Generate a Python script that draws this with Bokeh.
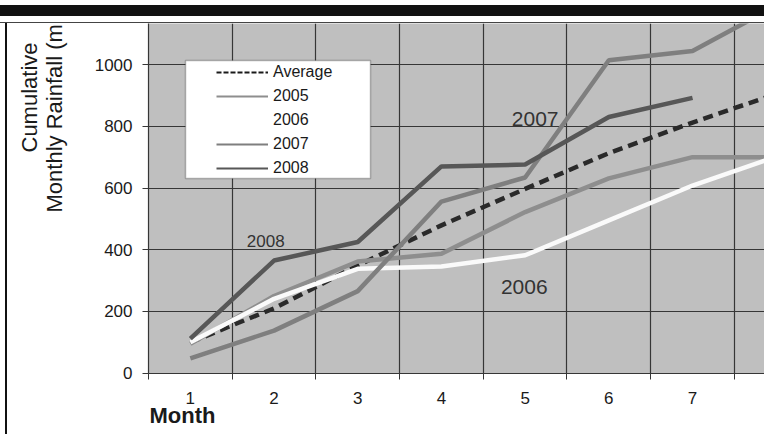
import math
from bokeh.plotting import figure
from bokeh.models import (Range1d, FixedTicker, Label, Legend, LegendItem,
                          BoxAnnotation, Div, Title)
from bokeh.layouts import column, row
from bokeh.core.properties import value
from bokeh.embed import file_html
from bokeh.resources import INLINE

# ---- data ----
months = [1, 2, 3, 4, 5, 6, 7, 8]
average = [100, 210, 349, 479, 597, 713, 812, 905]
y2005 = [95, 250, 362, 387, 522, 631, 700, 700]
y2006 = [100, 241, 338, 346, 382, 495, 608, 702]
y2007 = [48, 138, 266, 556, 634, 1014, 1044, 1190]
y2008 = [112, 365, 425, 670, 676, 830, 892]
y_ticks = [0, 200, 400, 600, 800, 1000]
series_names = ["Average", "2005", "2006", "2007", "2008"]
note_text = ["2008", "2007", "2006"]
note_x = [1.90, 5.12, 4.99]
note_y = [427, 822, 278]
y_title = ["Cumulative", "Monthly Rainfall (mm)"]
x_title = "Month"

FONT = "Liberation Sans"
TXT = "#1a1a1a"
GRID = "#363636"

# ---------------- main chart ----------------
p = figure(width=684, height=411,
           x_range=Range1d(0.5, 7.86), y_range=Range1d(-1, 1133),
           output_backend="svg", toolbar_location=None,
           min_border_left=68, min_border_right=0,
           min_border_top=0, min_border_bottom=61)
p.background_fill_color = "#bfbfbf"
p.border_fill_color = "white"
p.outline_line_color = None

p.xaxis.ticker = FixedTicker(ticks=months, minor_ticks=[m - 0.5 for m in months])
p.xaxis.major_tick_out = 0
p.xaxis.major_tick_in = 0
p.xaxis.minor_tick_out = 6
p.xaxis.minor_tick_in = 0
p.xaxis.minor_tick_line_color = GRID
p.xaxis.major_label_standoff = 12
p.yaxis.ticker = FixedTicker(ticks=y_ticks)
p.yaxis.major_tick_out = 6
p.yaxis.major_tick_in = 0
p.yaxis.minor_tick_out = 0
p.yaxis.minor_tick_in = 0
p.yaxis.major_label_standoff = 10
for ax in (p.xaxis, p.yaxis):
    ax.axis_line_color = GRID
    ax.axis_line_width = 1.2
    ax.major_tick_line_color = GRID
    ax.major_label_text_font = FONT
    ax.major_label_text_font_size = "17px"
    ax.major_label_text_color = TXT

p.xgrid.grid_line_color = None
p.xgrid.minor_grid_line_color = GRID
p.xgrid.minor_grid_line_width = 1.2
p.ygrid.grid_line_color = GRID
p.ygrid.grid_line_width = 1.2

series = [average, y2005, y2006, y2007, y2008]
styles = [("#2a2a2a", "10 6"), ("#8e8e8e", "solid"), ("#fafafa", "solid"),
          ("#7f7f7f", "solid"), ("#575757", "solid")]
for ys, (c, d) in zip(series, styles):
    p.line(months[:len(ys)], ys, line_color=c, line_width=4.5, line_dash=d)

for t, x, y in zip(note_text, note_x, note_y):
    p.text(x=[x], y=[y], text=[t], text_align="center",
           text_baseline="alphabetic", text_font=value(FONT),
           text_font_size="17px" if t == "2008" else "21px",
           text_color="#333333")

# legend: thin sample lines (hidden copies of the series)
leg_styles = [("#1a1a1a", "5 2"), ("#8e8e8e", "solid"), ("#ffffff", "solid"),
              ("#7f7f7f", "solid"), ("#575757", "solid")]
items = []
for name, ys, (c, d) in zip(series_names, series, leg_styles):
    r = p.line(months[:len(ys)], ys, line_color=c, line_width=1.8,
               line_dash=d, visible=False)
    items.append(LegendItem(label=name, renderers=[r]))

box = BoxAnnotation(left=37, right=222, top=313, bottom=195,
                    left_units="screen", right_units="screen",
                    top_units="screen", bottom_units="screen",
                    fill_color="white", fill_alpha=1.0,
                    line_color="#222222", line_width=1.5)
p.add_layout(box)

leg = Legend(items=items, location=(68, 195), padding=3, spacing=4,
             label_height=20, glyph_height=20, glyph_width=52,
             label_standoff=5, background_fill_alpha=0,
             border_line_color=None, margin=0, inactive_fill_alpha=0,
             label_text_font=FONT, label_text_font_size="16px",
             label_text_color=TXT)
p.add_layout(leg)

p.add_layout(Title(text=x_title, align="left", offset=1, vertical_align="top",
                   standoff=-7, text_font=FONT, text_font_size="22px",
                   text_font_style="bold", text_color=TXT), "below")

# ---------------- left strip with the y title ----------------
# (its frame is aligned with the main frame: page y 23..373)
lf = figure(width=72, height=411, x_range=Range1d(0, 72), y_range=Range1d(0, 350),
            output_backend="svg", toolbar_location=None,
            x_axis_location=None, y_axis_location=None,
            min_border_left=0, min_border_right=0, min_border_top=0,
            min_border_bottom=61)
lf.outline_line_color = None
lf.background_fill_color = "white"
lf.border_fill_color = "white"
lf.grid.visible = False
lf.add_layout(Label(x=21, y=221, text=y_title[0], angle=math.pi / 2,
                    text_align="left", text_baseline="alphabetic",
                    text_font=FONT, text_font_size="22px", text_color=TXT))
lf.add_layout(Label(x=46, y=161, text=y_title[1], angle=math.pi / 2,
                    text_align="left", text_baseline="alphabetic",
                    text_font=FONT, text_font_size="22px", text_color=TXT))

# thick left frame edge of the original graphic
edge = Div(text='<div style="width:2px;height:411px;background:#111111;'
                'margin-left:5px"></div>',
           width=8, height=411, margin=0,
           styles={"padding": "0", "margin": "0", "line-height": "0"})

# ---------------- top bar ----------------
top = Div(text='<div style="width:764px;height:5px;background:#ffffff"></div>'
               '<div style="width:764px;height:11px;background:#111111"></div>'
               '<div style="width:764px;height:6px;background:#ffffff"></div>'
               '<div style="width:764px;height:1px;background:#444444"></div>',
          width=764, height=23, margin=0,
          styles={"padding": "0", "margin": "0", "line-height": "0"})

layout = column(top, row(edge, lf, p, spacing=0), spacing=0)
open("out.html", "w").write(file_html(layout, INLINE))
